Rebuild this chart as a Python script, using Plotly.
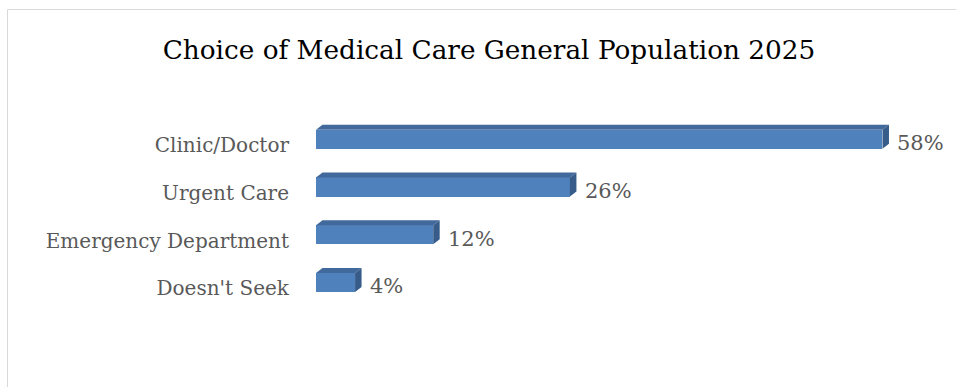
import plotly.graph_objects as go

# Survey shares by type of medical care chosen
categories = ["Clinic/Doctor", "Urgent Care", "Emergency Department", "Doesn't Seek"]
shares = [58, 26, 12, 4]
value_labels = ["58%", "26%", "12%", "4%"]

TITLE = "Choice of Medical Care General Population 2025"
FONT = "DejaVu Serif"
TEXT_GRAY = "#595959"
FRONT = "#4F81BD"
TOP = "#41699B"
SIDE = "#375C89"

# layout geometry (pixels)
W, H = 956, 387
ML, MR, MT, MB = 316, 54, 20, 33
X_MAX = 60
Y_TOP, Y_BOTTOM = -2.5, 4.5
px_per_x = (W - ML - MR) / X_MAX
px_per_y = (H - MT - MB) / (Y_BOTTOM - Y_TOP)

BAR_W = 0.4
DEPTH_X = 6.5 / px_per_x   # depth offset of the 3-D faces, in data units
DEPTH_Y = 5.0 / px_per_y

pos = list(range(len(categories)))

fig = go.Figure()

# front faces
fig.add_trace(go.Bar(
    x=shares, y=pos, orientation="h", width=BAR_W,
    marker=dict(color=FRONT, line=dict(width=0)),
    hoverinfo="skip", showlegend=False,
))

# top and side faces of each box
for p, v in zip(pos, shares):
    top_y = p - BAR_W / 2
    bot_y = p + BAR_W / 2
    fig.add_trace(go.Scatter(
        x=[0, DEPTH_X, v + DEPTH_X, v, 0],
        y=[top_y, top_y - DEPTH_Y, top_y - DEPTH_Y, top_y, top_y],
        mode="none", fill="toself", fillcolor=TOP,
        hoverinfo="skip", showlegend=False,
    ))
    fig.add_trace(go.Scatter(
        x=[v, v + DEPTH_X, v + DEPTH_X, v, v],
        y=[top_y, top_y - DEPTH_Y, bot_y - DEPTH_Y, bot_y, top_y],
        mode="none", fill="toself", fillcolor=SIDE,
        hoverinfo="skip", showlegend=False,
    ))

# value labels
for p, v, t in zip(pos, shares, value_labels):
    fig.add_annotation(
        x=v, y=p, text=t, showarrow=False,
        xanchor="left", yanchor="middle", xshift=13, yshift=-4,
        font=dict(family=FONT, size=21, color=TEXT_GRAY),
    )

# light frame around the chart area
fig.add_shape(
    type="rect", xref="paper", yref="paper",
    x0=(7.5 - ML) / (W - ML - MR), x1=(W + 20 - ML) / (W - ML - MR),
    y0=(H - MB - (H + 20)) / (H - MT - MB), y1=(H - MB - 9.5) / (H - MT - MB),
    line=dict(color="#D9D9D9", width=1), fillcolor="rgba(0,0,0,0)",
    layer="below",
)

fig.update_layout(
    width=W, height=H,
    margin=dict(l=ML, r=MR, t=MT, b=MB, pad=0),
    paper_bgcolor="white", plot_bgcolor="white",
    title=dict(
        text=TITLE, x=489 / W, xanchor="center",
        y=1 - 50 / H, yanchor="middle", yref="container",
        font=dict(family=FONT, size=26.3, color="black"),
    ),
    xaxis=dict(range=[0, X_MAX], visible=False, fixedrange=True),
    yaxis=dict(
        range=[Y_BOTTOM, Y_TOP], tickvals=pos, ticktext=categories,
        showgrid=False, zeroline=False, showline=False, ticks="",
        ticklabelstandoff=26, ticklabelshift=-6,
        tickfont=dict(family=FONT, size=20, color=TEXT_GRAY),
        fixedrange=True,
    ),
    bargap=0,
)

fig.write_html("out.html")
